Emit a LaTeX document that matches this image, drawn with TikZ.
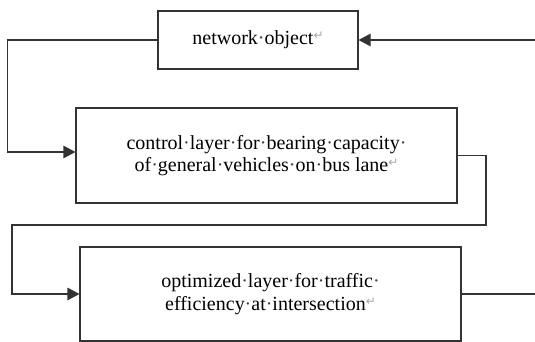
\documentclass[tikz,border=0pt]{standalone}
\usepackage{fontspec}
\setmainfont{Liberation Serif}
\newfontfamily\symfont{DejaVu Sans}
\usetikzlibrary{arrows.meta}
\newcommand{\pmark}{\raisebox{0.25em}{\textcolor{black!35}{\symfont\fontsize{12}{12}\selectfont ↵}}}
\newcommand{\sd}{\textcolor{black!75}{·}}
\tikzset{
  box/.style={draw=black!80, line width=1.1pt, minimum width=#1, inner sep=0pt, align=center, font=\fontsize{20}{22.5}\selectfont},
  conn/.style={draw=black!80, line width=1.1pt},
  arr/.style={conn, -{Triangle[length=12pt,width=12.5pt]}}
}
\begin{document}
\begin{tikzpicture}[x=1pt,y=-1pt]
\useasboundingbox (0,0) rectangle (535,342);
\node[box=200pt, minimum height=58pt] (b1) at (258,40) {network\sd object\pmark};
\node[box=381pt, minimum height=95pt] (b2) at (266.5,155.5) {control\sd layer\sd for\sd bearing\sd capacity\sd\\ of\sd general\sd vehicles\sd on\sd bus lane\pmark};
\node[box=381pt, minimum height=94pt] (b3) at (270.5,294) {optimized\sd layer\sd for\sd traffic\sd\\ efficiency\sd at\sd intersection\pmark};
\coordinate (in1) at (536,40);
\coordinate (r2) at (486,225);
\coordinate (l3) at (12,225);
\coordinate (out3) at (536,294);
\draw[arr] (in1) -- (b1.east);
\draw[arr] (b1.west) -- ++(-150,0) |- ([yshift=3.5pt]b2.west);
\draw[arr] (b2.east) -| (r2) -- (l3) |- (b3.west);
\draw[conn] (b3.east) -- (out3);
\end{tikzpicture}
\end{document}
